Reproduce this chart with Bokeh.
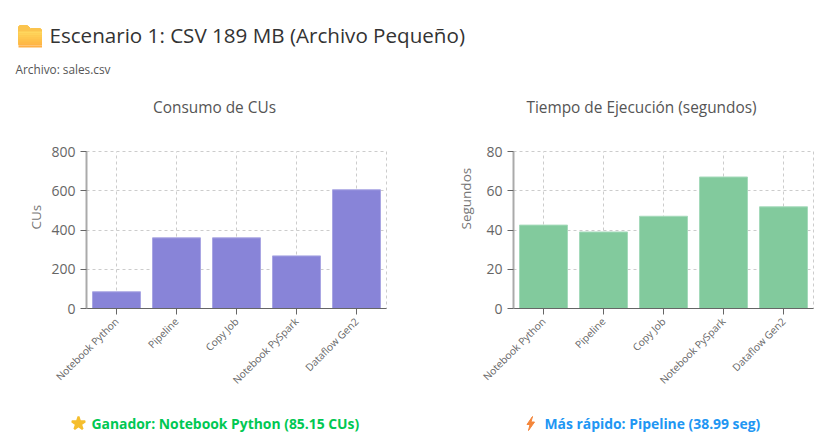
from math import pi
from bokeh.plotting import figure
from bokeh.layouts import column, row
from bokeh.models import Range1d, FactorRange, FixedTicker, Title
from bokeh.core.properties import value
from bokeh.embed import file_html
from bokeh.resources import INLINE

FONT = "Open Sans"

categories = ["Notebook Python", "Pipeline", "Copy Job", "Notebook PySpark", "Dataflow Gen2"]
cus = [85.15, 360, 360, 268, 605]
seconds = [42.5, 38.99, 47, 67, 51.8]

page_title = "Escenario 1: CSV 189 MB (Archivo Pequeño)"
file_label = "Archivo: sales.csv"
cu_title = "Consumo de CUs"
time_title = "Tiempo de Ejecución (segundos)"
cu_axis = "CUs"
time_axis = "Segundos"
winner = "Ganador: Notebook Python (85.15 CUs)"
fastest = "Más rápido: Pipeline (38.99 seg)"

W = 837


def canvas(w, h):
    f = figure(width=w, height=h, x_range=Range1d(0, w), y_range=Range1d(h, 0),
               toolbar_location=None, output_backend="svg", min_border=0)
    f.axis.visible = False
    f.grid.visible = False
    f.outline_line_color = None
    return f


header = canvas(W, 125)
# folder icon
header.patch([18, 18, 19, 27, 30, 40, 41, 41, 18], [44, 26, 25, 25, 28, 28, 29, 44, 44], color="#FBC44E")
strip_colors = ["#FFD75E", "#FFD258", "#FFCC53", "#FFC64E", "#FFC04A", "#FFBA47", "#FFB546", "#FFB046"]
header.quad(left=[18] * 8, right=[41.5] * 8, top=[31 + 2 * i for i in range(8)],
            bottom=[33 + 2 * i for i in range(8)], fill_color=strip_colors, line_color=None)
header.text([49], [34.5], text=[page_title], text_font=value(FONT), text_font_size="20.6px",
            text_color="#333333", text_baseline="middle")
header.text([15], [68], text=[file_label], text_font=value(FONT), text_font_size="11.8px",
            text_color="#555555", text_baseline="middle")
header.text([214, 641], [107, 107], text=[cu_title, time_title], text_font=value(FONT),
            text_font_size="15.4px", text_color="#555555", text_align="center", text_baseline="middle")


def chart(values, color, edge, ymax, ticks, ylabel, w, left, right, standoff):
    f = figure(width=w, height=283, x_range=FactorRange(factors=categories, range_padding=0),
               y_range=Range1d(0, ymax), toolbar_location=None, output_backend="svg",
               min_border_left=left, min_border_right=right, min_border_top=26, min_border_bottom=100)
    f.x_range.factor_padding = 0
    f.vbar(x=categories, top=values, width=0.8, fill_color=color, line_color=edge, line_width=1)
    f.outline_line_color = "#cccccc"
    f.outline_line_dash = "3 3"
    f.yaxis.ticker = FixedTicker(ticks=ticks)
    f.axis.major_label_text_font = FONT
    f.axis.major_label_text_color = "#666666"
    f.yaxis.major_label_text_font_size = "14px"
    f.xaxis.major_label_text_font_size = "10.2px"
    f.xaxis.major_label_orientation = pi / 4
    f.xaxis.axis_line_color = "#666666"
    f.yaxis.axis_line_color = "#aaaaaa"
    f.yaxis.axis_line_width = 2
    f.axis.major_tick_line_color = "#666666"
    f.axis.major_tick_in = 0
    f.axis.major_tick_out = 6
    f.axis.minor_tick_line_color = None
    f.grid.grid_line_color = "#cccccc"
    f.grid.grid_line_dash = "3 3"
    f.add_layout(Title(text=ylabel, align="left", offset=79, standoff=standoff,
                       text_font=FONT, text_font_size="13.5px", text_font_style="normal",
                       text_color="#777777"), "left")
    return f


p1 = chart(cus, "#8884d8", "#a9a6e3", 800, [0, 200, 400, 600, 800], cu_axis, 425, 86, 39, 8)
p2 = chart(seconds, "#82ca9d", "#a5dabb", 80, [0, 20, 40, 60, 80], time_axis, 412, 88, 24, 18)

footer = canvas(W, 36)
footer.scatter([78], [15], marker="star", size=14, fill_color="#F5BE2E", line_color="#F5BE2E", line_width=2)
footer.patch([532, 526.5, 529.5, 528, 534, 530.5], [8, 16, 16, 22, 13.5, 13.5], color="#F4863B")
footer.text([91], [15], text=[winner], text_font=value(FONT), text_font_size="13.9px",
            text_font_style="bold", text_color="#00C853", text_baseline="middle")
footer.text([544], [15], text=[fastest], text_font=value(FONT), text_font_size="13.9px",
            text_font_style="bold", text_color="#2196F3", text_baseline="middle")

page = column(header, row(p1, p2, spacing=0), footer, spacing=0)
open("out.html", "w").write(file_html(page, INLINE))
